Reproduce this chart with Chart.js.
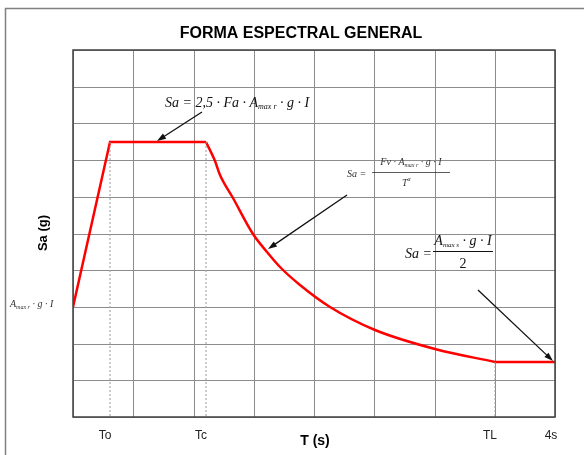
<!DOCTYPE html>
<html>
<head>
<meta charset="utf-8">
<script src="https://cdn.jsdelivr.net/npm/chart.js@4"></script>
<style>html,body{margin:0;padding:0;background:#fff;}</style>
</head>
<body>
<canvas id="spectrum" width="584" height="455"></canvas>
<script>
// spectral shape, T (s) vs Sa (grid units)
const periods = [0, 0.307, 1.104, 1.18, 1.22, 1.33, 1.49, 1.61, 1.72, 1.88, 2.13, 2.51, 3.0, 3.5, 4.0];
const saValues = [3, 7.5, 7.5, 6.98, 6.6, 5.97, 4.99, 4.5, 4.09, 3.6, 3.0, 2.37, 1.85, 1.5, 1.5];

// characteristic periods and their labels on the T axis
const keyPeriods = [0.307, 1.104, 3.5, 4];
const keyLabels = ['To', 'Tc', 'TL', '4s'];
const guideTops = [7.5, 7.5, 1.5];

const points = periods.map((t, i) => ({ x: t, y: saValues[i] }));
const iTc = periods.indexOf(keyPeriods[1]);
const iTL = periods.indexOf(keyPeriods[2]);
const straightPart = points.slice(0, iTc + 1).concat([{ x: null, y: null }], points.slice(iTL));
const decayPart = points.slice(iTc, iTL + 1);

const guides = [];
guideTops.forEach((top, i) => {
    guides.push({ x: keyPeriods[i], y: top }, { x: keyPeriods[i], y: 0 }, { x: keyPeriods[i], y: null });
});

const serif = '"Liberation Serif", "Times New Roman", serif';
const sans = '"Liberation Sans", Arial, sans-serif';

function richText(ctx, x, y, parts) {
    parts.forEach((p) => {
        ctx.font = p.f;
        ctx.fillText(p.t, x, y + (p.dy || 0));
        x += ctx.measureText(p.t).width;
    });
    return x;
}
function richWidth(ctx, parts) {
    let w = 0;
    parts.forEach((p) => { ctx.font = p.f; w += ctx.measureText(p.t).width; });
    return w;
}

function arrow(ctx, x1, y1, x2, y2) {
    const a = Math.atan2(y2 - y1, x2 - x1);
    ctx.beginPath();
    ctx.moveTo(x1, y1);
    ctx.lineTo(x2 - 6 * Math.cos(a), y2 - 6 * Math.sin(a));
    ctx.stroke();
    ctx.beginPath();
    ctx.moveTo(x2, y2);
    ctx.lineTo(x2 - 9 * Math.cos(a) + 3 * Math.sin(a), y2 - 9 * Math.sin(a) - 3 * Math.cos(a));
    ctx.lineTo(x2 - 9 * Math.cos(a) - 3 * Math.sin(a), y2 - 9 * Math.sin(a) + 3 * Math.cos(a));
    ctx.closePath();
    ctx.fill();
}

const decorations = {
    id: 'decorations',
    beforeDraw(chart) {
        const ctx = chart.ctx;
        ctx.save();
        ctx.strokeStyle = '#808080';
        ctx.lineWidth = 1.5;
        ctx.strokeRect(5.5, 8.5, 600, 500);
        ctx.restore();
    },
    afterDatasetsDraw(chart) {
        const ctx = chart.ctx;
        const xs = chart.scales.x, ys = chart.scales.y;
        const px = (t) => xs.getPixelForValue(t);
        const py = (v) => ys.getPixelForValue(v);
        const a = chart.chartArea;
        ctx.save();

        // plot frame
        ctx.strokeStyle = '#404040';
        ctx.lineWidth = 1.5;
        ctx.strokeRect(a.left, a.top, a.right - a.left, a.bottom - a.top);

        // arrows
        ctx.strokeStyle = '#111';
        ctx.fillStyle = '#111';
        ctx.lineWidth = 1.3;
        arrow(ctx, px(1.07), py(8.31), px(0.70), py(7.52));
        arrow(ctx, px(2.27), py(6.05), px(1.62), py(4.58));
        arrow(ctx, px(3.36), py(3.46), px(3.98), py(1.52));

        // title and axis titles
        ctx.fillStyle = '#000';
        ctx.textAlign = 'center';
        ctx.textBaseline = 'alphabetic';
        ctx.font = 'bold 16px ' + sans;
        ctx.fillText('FORMA ESPECTRAL GENERAL', 301, 38);
        ctx.font = 'bold 14px ' + sans;
        ctx.fillText('T (s)', 315, 445);
        ctx.save();
        ctx.translate(47, 233);
        ctx.rotate(-Math.PI / 2);
        ctx.font = 'bold 13px ' + sans;
        ctx.fillText('Sa (g)', 0, 0);
        ctx.restore();

        // key period labels
        ctx.font = '12px ' + sans;
        ctx.fillStyle = '#222';
        keyPeriods.forEach((t, i) => {
            ctx.fillText(keyLabels[i], px(t) - (i === 3 ? 4 : 5), 439);
        });

        // formulas
        ctx.textAlign = 'left';
        ctx.fillStyle = '#111';
        const f15 = 'italic 14px ' + serif, s8 = 'italic 8px ' + serif;
        richText(ctx, 165, 107, [
            { t: 'Sa = 2,5 · Fa · A', f: f15 },
            { t: 'max r', f: s8, dy: 2 },
            { t: ' · g · I', f: f15 }
        ]);

        const f10 = 'italic 10px ' + serif, s6 = 'italic 6px ' + serif;
        ctx.fillStyle = '#333';
        richText(ctx, 347, 177, [{ t: 'Sa =', f: f10 }]);
        const num2 = [
            { t: 'Fv · A', f: f10 },
            { t: 'max r', f: s6, dy: 2 },
            { t: ' · g · I', f: f10 }
        ];
        const w2 = richWidth(ctx, num2);
        richText(ctx, 411 - w2 / 2, 165, num2);
        ctx.fillRect(372, 172, 78, 0.8);
        richText(ctx, 402, 186, [{ t: 'T', f: f10 }, { t: 'α', f: s6, dy: -5 }]);

        const f14 = 'italic 14px ' + serif, s7 = 'italic 7px ' + serif;
        ctx.fillStyle = '#111';
        richText(ctx, 405, 258, [{ t: 'Sa =', f: f14 }]);
        const num3 = [
            { t: 'A', f: f14 },
            { t: 'max s', f: s7, dy: 2 },
            { t: ' · g · I', f: f14 }
        ];
        const w3 = richWidth(ctx, num3);
        richText(ctx, 463 - w3 / 2, 245, num3);
        ctx.fillRect(433, 251, 60, 1);
        ctx.font = '14px ' + serif;
        ctx.textAlign = 'center';
        ctx.fillText('2', 463, 268);

        ctx.textAlign = 'left';
        ctx.fillStyle = '#333';
        richText(ctx, 10, 307, [
            { t: 'A', f: f10 },
            { t: 'max r', f: s6, dy: 2 },
            { t: ' · g · I', f: f10 }
        ]);
        ctx.restore();
    }
};

const red = { showLine: true, borderColor: '#ff0000', borderWidth: 2.5, pointRadius: 0, spanGaps: false };

new Chart(document.getElementById('spectrum'), {
    type: 'scatter',
    data: {
        datasets: [
            {
                data: guides,
                showLine: true,
                spanGaps: false,
                borderColor: '#999',
                borderWidth: 1,
                borderDash: [2, 2],
                pointRadius: 0
            },
            Object.assign({ data: straightPart, tension: 0 }, red),
            Object.assign({ data: decayPart, cubicInterpolationMode: 'monotone' }, red)
        ]
    },
    options: {
        responsive: false,
        animation: false,
        layout: { padding: { left: 73, top: 50, right: 29, bottom: 38 } },
        plugins: { legend: { display: false }, tooltip: { enabled: false } },
        scales: {
            x: {
                type: 'linear',
                min: 0,
                max: 4,
                alignToPixels: true,
                ticks: { display: false, stepSize: 0.5 },
                grid: { color: '#8c8c8c', lineWidth: 1, drawTicks: false },
                border: { display: false },
                afterFit: (s) => { s.height = 0; }
            },
            y: {
                min: 0,
                max: 10,
                alignToPixels: true,
                ticks: { display: false, stepSize: 1 },
                grid: { color: '#8c8c8c', lineWidth: 1, drawTicks: false },
                border: { display: false },
                afterFit: (s) => { s.width = 0; }
            }
        }
    },
    plugins: [decorations]
});
</script>
</body>
</html>
